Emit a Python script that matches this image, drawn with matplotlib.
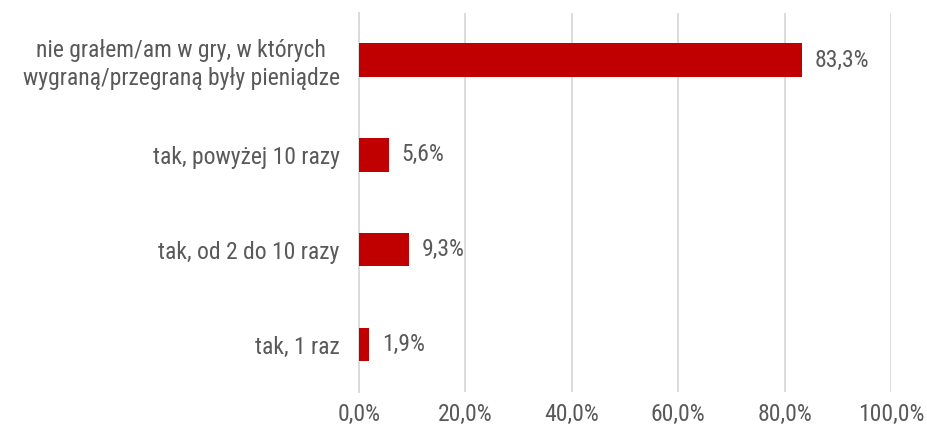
import matplotlib
matplotlib.use("Agg")
import matplotlib.pyplot as plt
from matplotlib import font_manager

# data, top to bottom as in the picture
categories = [
    "nie grałem/am w gry, w których\nwygraną/przegraną były pieniądze",
    "tak, powyżej 10 razy",
    "tak, od 2 do 10 razy",
    "tak, 1 raz",
]
values = [83.3, 5.6, 9.3, 1.9]
xticks = [0, 20, 40, 60, 80, 100]

names = {f.name for f in font_manager.fontManager.ttflist}
family = "DejaVu Sans"
for cand in ["Liberation Sans Narrow", "Roboto Condensed", "Lato"]:
    if cand in names:
        family = cand
        break
plt.rcParams["font.family"] = [family, "DejaVu Sans"]

text_color = "#595959"
bar_color = "#C00000"
fs = 17

fig = plt.figure(figsize=(9.28, 4.32), dpi=100)
ax = fig.add_axes([0.387, 0.092, 0.573, 0.879])

ypos = list(range(len(categories)))[::-1]
ax.barh(ypos, values, height=0.35, color=bar_color, zorder=3)

for y, v in zip(ypos, values):
    ax.text(v + 2.4, y, f"{v:.1f}%".replace(".", ","), va="center", ha="left",
            fontsize=fs, color=text_color, zorder=4)

ax.set_xlim(0, 100)
ax.set_ylim(-0.5, 3.5)
ax.set_xticks(xticks)
ax.set_xticklabels([f"{t:.1f}%".replace(".", ",") for t in xticks], fontsize=fs, color=text_color)
ax.set_yticks(ypos)
ax.set_yticklabels(categories, fontsize=fs, color=text_color, ha="right",
                   multialignment="center", linespacing=1.25)
ax.tick_params(axis="y", length=0, pad=14)
ax.tick_params(axis="x", length=0, pad=8)

ax.grid(axis="x", color="#D9D9D9", linewidth=1.3, zorder=0)
for s in ["top", "right", "bottom"]:
    ax.spines[s].set_visible(False)
ax.spines["left"].set_color("#D9D9D9")
ax.spines["left"].set_linewidth(1.3)

fig.savefig("out.png", dpi=100)
